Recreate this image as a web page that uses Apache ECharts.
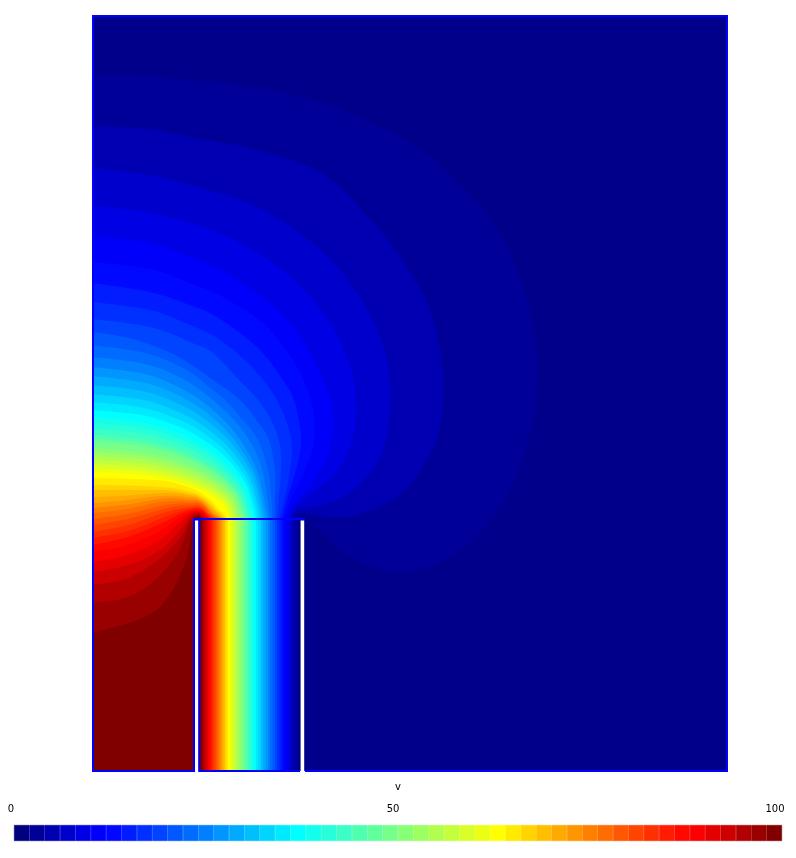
<!DOCTYPE html>
<html><head><meta charset="utf-8">
<style>html,body{margin:0;padding:0;background:#fff}#c{width:796px;height:858px}</style>
<script src="https://cdn.jsdelivr.net/npm/echarts@6/dist/echarts.min.js"></script>
</head><body><div id="c"></div>
<script>
const levelColors = ['#000080','#000099','#0000b2','#0000cc','#0000e5','#0000fa','#0008ff','#001cff','#0030ff','#0044ff','#0058ff','#006cff','#0080ff','#0095ff','#00aaff','#00bfff','#00d4ff','#00eaff','#00ffff','#14ffeb','#27ffd8','#3bffc4','#4effb1','#62ff9d','#76ff89','#89ff76','#9dff62','#b0ff4f','#c4ff3b','#d8ff27','#ebff14','#ffff00','#ffea00','#ffd400','#ffbf00','#ffaa00','#ff9500','#ff8000','#ff6c00','#ff5800','#ff4400','#ff3000','#ff1c00','#ff0800','#fa0000','#e50000','#cc0000','#b20000','#990000','#800000'];
const outerFieldColor = '#00008a';
const scaleTicks = [0, 50, 100];
const fieldName = 'v';

// Iso-value curves of v, in plot units. Curve bNN is the outer edge of colour band NN.
const b01=[[93,75],[140,76],[190,80],[257,88],[323,103],[390,132],[430,157],[457,182],[483,210],[507,247],[523,287],[533,327],[538,370],[533,420],[520,467],[500,507],[473,540],[440,563],[403,572],[377,568],[350,557],[330,540],[307,519],[298,519]];
const b02=[[93,126],[150,129],[190,137],[257,150],[323,174],[370,219],[403,261],[430,310],[443,373],[440,427],[423,467],[397,497],[357,515],[330,517],[303,513],[295,519]];
const b03=[[93,168],[150,175],[190,185],[257,207],[317,247],[357,293],[380,337],[389,373],[390,407],[382,453],[357,487],[323,505],[297,510],[292,519]];
const b04=[[93,205],[150,213],[190,223],[240,243],[290,277],[330,323],[350,367],[356,403],[353,437],[340,467],[317,490],[296,506],[289.5,519]];
const b05=[[93,236],[150,243],[190,257],[233,277],[277,310],[307,347],[327,390],[333,417],[330,447],[317,477],[297,500],[287,519]];
const b06=[[93,262],[150,269],[190,283],[223,297],[263,323],[293,360],[310,397],[315,437],[305,470],[292,497],[284.5,519]];
const b07=[[93,283],[150,292],[190,305],[217,317],[257,347],[283,380],[295,403],[301,437],[298,463],[289,493],[282,519]];
const b08=[[93,302],[150,310],[190,325],[217,338],[247,362],[272,392],[287,423],[292,450],[288,482],[279.5,519]];
const b09=[[93,319],[150,327],[190,342],[213,353],[240,381],[258,400],[272,422],[280,445],[281,470],[279,495],[277,519]];
const b10=[[93,332],[133,339],[177,356],[213,380],[240,400],[258,422],[269,440],[275,470],[275,498],[275,519]];
const b11=[[93,345],[145,353],[185,369],[213,390],[225,400],[243,420],[258,440],[268,470],[271,495],[272.5,519]];
const b12=[[93,357],[145,364],[181,378],[208,396],[234,420],[252,445],[263,473],[270,519]];
const b13=[[93,367],[144.8,374],[179.3,387.4],[205.1,403.5],[231,427.8],[248.3,452.7],[259,476.4],[268,519]];
const b14=[[93,376],[144,382.6],[178,395.2],[203.5,410.3],[229,433.2],[246,456.7],[256.6,479],[265.5,519]];
const b15=[[93,385],[143.4,391.2],[177,403],[202.2,417.2],[227.4,438.6],[244.2,460.6],[254.7,481.5],[263,519]];
const b16=[[93,394],[142.7,399.8],[175.8,410.8],[200.6,424],[225.4,444],[242,464.5],[252.3,484],[261,519]];
const b17=[[93,402],[141.9,407.4],[174.5,417.7],[199,430.1],[223.4,448.8],[239.7,468],[249.9,486.2],[258.5,519]];
const b18=[[93,410],[141.3,415],[173.5,424.6],[197.7,436.2],[221.8,453.6],[237.9,471.5],[248,488.5],[256,519]];
const b19=[[93,417],[140.7,421.7],[172.5,430.7],[196.4,441.5],[220.2,457.8],[236.1,474.5],[246,490.4],[254,519]];
const b20=[[93,423],[140.1,427.4],[171.5,435.9],[195,446],[218.6,461.4],[234.3,477.1],[244.1,492.1],[252,519]];
const b21=[[93,429],[139.5,433.1],[170.5,441],[193.8,450.6],[217,465],[232.5,479.8],[242.2,493.8],[250,519]];
const b22=[[93,435],[138.9,438.9],[169.5,446.3],[192.5,455.2],[215.4,468.6],[230.7,482.4],[240.3,495.5],[248,519]];
const b23=[[93,438.5],[138.6,442.2],[169,449.3],[191.8,457.8],[214.6,470.7],[229.8,483.9],[239,496.5],[246,519]];
const b24=[[93,442],[138.3,445.5],[168.5,452.3],[191.2,460.5],[213.8,472.8],[228.9,485.4],[238,497.4],[244,519]];
const b25=[[93,448],[137.7,451.3],[167.5,457.5],[189.9,465],[212.2,476.4],[227.1,488],[236,499.1],[242,519]];
const b26=[[93,452],[137.1,455.1],[166.5,461],[188.6,468.1],[210.6,478.8],[225.3,489.8],[234.1,500.2],[240,519]];
const b27=[[93,456],[136.5,458.9],[165.5,464.4],[187.3,471.1],[209,481.2],[223.5,491.5],[232.2,501.4],[238,519]];
const b28=[[93,460],[135.9,462.7],[164.5,467.9],[186,474.2],[207.4,483.6],[221.7,493.3],[230.3,502.5],[236,519]];
const b29=[[93,464],[135.3,466.5],[163.5,471.4],[184.7,477.2],[205.8,486],[219.9,495],[228.4,503.6],[234,519]];
const b30=[[93,468],[134.7,470.3],[162.5,474.8],[183.4,480.2],[204.2,488.4],[218.1,496.8],[226.4,504.7],[232,519]];
const b31=[[93,472],[134.1,474.2],[161.5,478.3],[182,483.3],[202.6,490.8],[216.3,498.5],[224.5,505.8],[230,519]];
const b32=[[93,478],[130,479],[165,481],[185,486],[198,491],[209,499],[219,509],[228,519]];
const b33=[[93,485],[128,485.5],[160,487],[178,489],[190,492],[197,494],[207,499.5],[217,510],[226.5,519]];
const b34=[[93,490],[128,490],[160,490],[178,491.5],[190,494],[197,495.5],[206,501],[216,511],[225,519]];
const b35=[[93,497],[128,495.5],[160,493],[178,493.5],[190,495.5],[197,497],[205,502],[215,512],[223.5,519]];
const b36=[[93,503],[128,500],[160,496],[178,496],[190,497.5],[197,498.5],[204.5,503],[214,513],[222,519]];
const b37=[[93,508],[128,504.5],[160,499],[178,498.5],[190,499.5],[197,500],[204,504],[213,514],[220.5,519]];
const b38=[[93,513],[128,509],[160,502],[178,501],[190,501.5],[197,501.5],[204,505],[212,514],[219,519]];
const b39=[[93,519],[128,514],[160,506],[178,503.5],[190,503.5],[197,503],[203.5,506],[211,514.5],[217.5,519]];
const b40=[[93,525],[128,519],[160,510],[178,506],[190,505.5],[197,505],[203,507.5],[210,515],[216,519]];
const b41=[[93,532],[128,525],[160,514],[178,509],[190,507.5],[197,506.5],[203,509],[209,515.5],[214,519]];
const b42=[[93,538],[128,531],[160,519],[178,512],[190,509],[197,508],[203,510],[208.5,516],[212.5,519]];
const b43=[[93,545],[128,537],[160,524],[178,515],[190,510.5],[197,509.5],[203,511],[208,517],[211,519]];
const b44=[[93,552],[128,545],[160,531],[178,519],[190,512],[197,511],[203,512.5],[209.5,519]];
const b45=[[93,562],[128,555],[160,540],[178,524],[190,514],[197,512],[202,513.5],[208,519]];
const b46=[[93,572],[128,565],[160,550],[180,530],[190,516],[197,513],[202,514.5],[206.5,519]];
const b47=[[93,585],[128,578],[158,560],[180,538],[190,519],[197,514],[201,515.5],[205,519]];
const b48=[[93,603],[128,597],[155,580],[178,553],[190,523],[197,515],[200,516],[203.5,519]];
const b49=[[93,633],[145,617],[168,597],[185,563],[192,530],[195,518],[197.5,516],[200,517],[202,519]];
const isoCurves=[b01,b02,b03,b04,b05,b06,b07,b08,b09,b10,b11,b12,b13,b14,b15,b16,b17,b18,b19,b20,b21,b22,b23,b24,b25,b26,b27,b28,b29,b30,b31,b32,b33,b34,b35,b36,b37,b38,b39,b40,b41,b42,b43,b44,b45,b46,b47,b48,b49];
const firstCurveBand = 1;

const outerBoundary=[[305,771],[727,771],[727,16],[93,16],[93,771],[194,771],[194,519],[305,519]];
const innerBoundary=[[199.3,520],[199.3,771],[300,771]];
const gapLeft=[[196.7,520.5],[196.7,773]];
const gapRight=[[302.4,520.5],[302.4,773]];

const yBottom = 771;
function bandItem(params, api) {
  const k = api.value(0);
  const curve = isoCurves[k - firstCurveBand];
  const pts = curve.map(p => api.coord(p));
  let d = 'M' + pts[0][0] + ' ' + pts[0][1];
  for (let i = 0; i < pts.length - 1; i++) {
    const p0 = pts[Math.max(i - 1, 0)], p1 = pts[i], p2 = pts[i + 1], p3 = pts[Math.min(i + 2, pts.length - 1)];
    const t = 1 / 6;
    d += ' C' + (p1[0] + (p2[0] - p0[0]) * t) + ' ' + (p1[1] + (p2[1] - p0[1]) * t) + ' ' +
         (p2[0] - (p3[0] - p1[0]) * t) + ' ' + (p2[1] - (p3[1] - p1[1]) * t) + ' ' + p2[0] + ' ' + p2[1];
  }
  const last = curve[curve.length - 1];
  const a = api.coord([last[0], yBottom]), b = api.coord([93, yBottom]);
  d += ' L' + a[0] + ' ' + a[1] + ' L' + b[0] + ' ' + b[1] + ' Z';
  return { type: 'path', shape: { pathData: d }, style: { fill: levelColors[k], stroke: null } };
}

function boundaryLine(data, color, width, z) {
  return { type: 'line', xAxisIndex: 0, yAxisIndex: 0, data, showSymbol: false, symbol: 'none', clip: false, z,
    silent: true, lineStyle: { color, width, cap: 'butt', join: 'miter' } };
}

const chart = echarts.init(document.getElementById('c'), null, { renderer: 'canvas' });
chart.setOption({
  animation: false,
  backgroundColor: '#ffffff',
  title: { text: fieldName, left: 390, top: 777, textStyle: { fontSize: 10, fontWeight: 'normal', color: '#000', fontFamily: 'DejaVu Sans' } },
  grid: [
    { left: 93, top: 16, width: 634, height: 755, show: true, backgroundColor: outerFieldColor, borderWidth: 0 },
    { left: 14, top: 825, width: 768, height: 16 },
    { left: 11, top: 796, width: 764, height: 5 }
  ],
  xAxis: [
    { gridIndex: 0, type: 'value', min: 93, max: 727, show: false },
    { gridIndex: 1, type: 'category', data: levelColors.map((_, i) => i), show: false },
    { gridIndex: 2, type: 'value', min: scaleTicks[0], max: scaleTicks[2], interval: scaleTicks[1], position: 'bottom',
      axisLine: { show: false }, axisTick: { show: false }, splitLine: { show: false },
      axisLabel: { show: true, margin: 3, fontSize: 10, color: '#000', fontFamily: 'DejaVu Sans', hideOverlap: false } }
  ],
  yAxis: [
    { gridIndex: 0, type: 'value', min: 16, max: 771, inverse: true, show: false },
    { gridIndex: 1, type: 'value', min: 0, max: 1, show: false },
    { gridIndex: 2, type: 'value', min: 0, max: 1, show: false }
  ],
  series: [
    { type: 'custom', xAxisIndex: 0, yAxisIndex: 0, coordinateSystem: 'cartesian2d', clip: true, silent: true, z: 2,
      renderItem: bandItem, encode: { x: 0, y: 0 }, data: isoCurves.map((_, i) => [i + firstCurveBand]) },
    boundaryLine(gapLeft, '#ffffff', 3.6, 3),
    boundaryLine(gapRight, '#ffffff', 3.6, 3),
    boundaryLine(outerBoundary, '#0000ff', 2, 4),
    boundaryLine(innerBoundary, '#0000ff', 2, 4),
    { type: 'bar', xAxisIndex: 1, yAxisIndex: 1, barWidth: '100%', silent: true, z: 2,
      data: levelColors.map(c => ({ value: 1, itemStyle: { color: c, borderColor: c, borderWidth: 0.6 } })) },
    { type: 'line', xAxisIndex: 2, yAxisIndex: 2, data: [], silent: true }
  ]
});
</script></body></html>
